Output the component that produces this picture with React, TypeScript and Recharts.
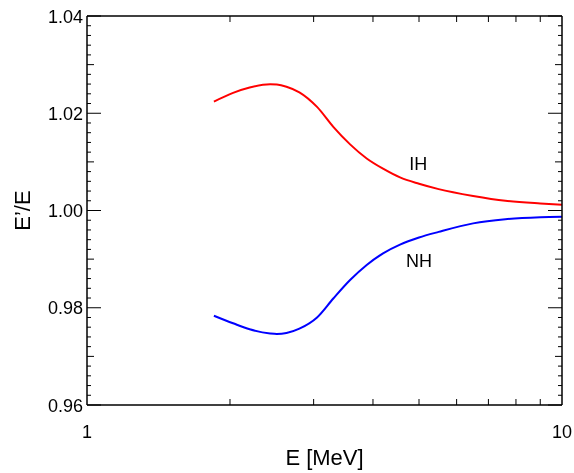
import { Label, Line, LineChart, ReferenceDot, XAxis, YAxis } from 'recharts';

const FONT = '"Liberation Sans", Arial, Helvetica, sans-serif';

// E [MeV] sample points and E'/E for both hierarchies
const energies = [1.85, 2.03, 2.2, 2.43, 2.51, 2.63, 2.8, 3.05, 3.3, 3.58, 3.88, 4.2, 4.56, 5.0, 5.5, 6.5, 7.6, 9.0, 10];
const ihValues = [1.0224, 1.0242, 1.0253, 1.02595, 1.0259, 1.02546, 1.0243, 1.0213, 1.0172, 1.0136, 1.0107, 1.0086, 1.0068, 1.0055, 1.0044, 1.003, 1.002, 1.00145, 1.0012];
const nhValues = [0.97836, 0.9768, 0.97557, 0.9747, 0.9746, 0.9748, 0.9757, 0.978, 0.9819, 0.9857, 0.9888, 0.9912, 0.993, 0.99445, 0.9956, 0.99735, 0.9982, 0.9986, 0.9987];

const xTicks = [1, 2, 3, 4, 5, 6, 7, 8, 9, 10];
const xLabels: Record<number, string> = { 1: '1', 10: '10' };
const yMajor = [0.96, 0.98, 1.0, 1.02, 1.04];
const yLabels = ['0.96', '0.98', '1.00', '1.02', '1.04'];

const yTicks: number[] = [];
for (let i = 0; i <= 40; i++) yTicks.push(Math.round((0.96 + i * 0.002) * 1000) / 1000);

const data = energies.map((e, i) => ({ e, ih: ihValues[i], nh: nhValues[i] }));

function yTickLen(v: number) {
  const k = Math.round(v * 1000);
  if (k % 20 === 0) return 14;
  if (k % 10 === 0) return 7;
  return 4;
}

function yLabel(v: number) {
  const idx = yMajor.findIndex((m) => Math.abs(m - v) < 1e-6);
  return idx >= 0 ? yLabels[idx] : null;
}

const BottomTick = ({ x, y, payload }: any) => {
  const v = payload.value;
  const isEnd = v === 1 || v === 10;
  return (
    <g>
      {!isEnd && <line x1={x} x2={x} y1={y} y2={y - 6} stroke="#000" strokeWidth={1} />}
      {xLabels[v] && (
        <text x={x} y={y + 33} textAnchor="middle" fontSize={18} fontFamily={FONT} fill="#000">
          {xLabels[v]}
        </text>
      )}
    </g>
  );
};

const TopTick = ({ x, y, payload }: any) => {
  const v = payload.value;
  if (v === 1 || v === 10) return <g />;
  return <line x1={x} x2={x} y1={y} y2={y + 6} stroke="#000" strokeWidth={1} />;
};

const LeftTick = ({ x, y, payload }: any) => {
  const v = payload.value;
  const lab = yLabel(v);
  const len = yTickLen(v);
  return (
    <g>
      <line x1={x} x2={x + len} y1={y} y2={y} stroke="#000" strokeWidth={1} />
      {lab && (
        <text x={x - 4} y={y + 6.5} textAnchor="end" fontSize={18} fontFamily={FONT} fill="#000">
          {lab}
        </text>
      )}
    </g>
  );
};

const RightTick = ({ x, y, payload }: any) => {
  const len = yTickLen(payload.value);
  return <line x1={x} x2={x - len} y1={y} y2={y} stroke="#000" strokeWidth={1} />;
};

export default function App() {
  return (
    <div style={{ position: 'fixed', left: 0, top: 0 }}>
      <LineChart width={574} height={473} data={data} margin={{ top: 15, right: 11, left: 0, bottom: 0 }}>
        <XAxis
          xAxisId="b"
          dataKey="e"
          type="number"
          scale="log"
          domain={[1, 10]}
          allowDataOverflow
          ticks={xTicks}
          interval={0}
          tickSize={0}
          tickMargin={0}
          tickLine={false}
          tick={<BottomTick />}
          height={68}
          axisLine={{ stroke: '#000', strokeWidth: 1.5 }}
        >
          <Label
            content={({ viewBox }: any) => (
              <text
                x={viewBox.x + viewBox.width / 2}
                y={viewBox.y + 60}
                textAnchor="middle"
                fontSize={22}
                fontFamily={FONT}
                fill="#000"
              >
                E [MeV]
              </text>
            )}
          />
        </XAxis>
        <XAxis
          xAxisId="t"
          orientation="top"
          dataKey="e"
          type="number"
          scale="log"
          domain={[1, 10]}
          allowDataOverflow
          ticks={xTicks}
          interval={0}
          tickSize={0}
          tickMargin={0}
          tickLine={false}
          tick={<TopTick />}
          height={1}
          axisLine={{ stroke: '#000', strokeWidth: 1.5 }}
        />
        <YAxis
          yAxisId="l"
          type="number"
          domain={[0.96, 1.04]}
          allowDataOverflow
          ticks={yTicks}
          interval={0}
          tickSize={0}
          tickMargin={0}
          tickLine={false}
          tick={<LeftTick />}
          width={87}
          axisLine={{ stroke: '#000', strokeWidth: 1.5 }}
        >
          <Label
            content={({ viewBox }: any) => {
              const cx = viewBox.x + 30;
              const cy = viewBox.y + viewBox.height / 2;
              return (
                <text
                  x={cx}
                  y={cy}
                  transform={`rotate(-90, ${cx}, ${cy})`}
                  textAnchor="middle"
                  fontSize={22}
                  fontFamily={FONT}
                  fill="#000"
                >
                  E’/E
                </text>
              );
            }}
          />
        </YAxis>
        <YAxis
          yAxisId="r"
          orientation="right"
          type="number"
          domain={[0.96, 1.04]}
          allowDataOverflow
          ticks={yTicks}
          interval={0}
          tickSize={0}
          tickMargin={0}
          tickLine={false}
          tick={<RightTick />}
          width={1}
          axisLine={{ stroke: '#000', strokeWidth: 1.5 }}
        />
        <Line
          xAxisId="b"
          yAxisId="l"
          type="monotone"
          dataKey="ih"
          stroke="#ff0000"
          strokeWidth={2}
          dot={false}
          isAnimationActive={false}
        />
        <Line
          xAxisId="b"
          yAxisId="l"
          type="monotone"
          dataKey="nh"
          stroke="#0000ff"
          strokeWidth={2}
          dot={false}
          isAnimationActive={false}
        />
        <ReferenceDot xAxisId="b" yAxisId="l" x={4.98} y={1.0097} r={0} stroke="none" fill="none">
          <Label value="IH" position="center" fontSize={18} fontFamily={FONT} fill="#000" />
        </ReferenceDot>
        <ReferenceDot xAxisId="b" yAxisId="l" x={5.0} y={0.9897} r={0} stroke="none" fill="none">
          <Label value="NH" position="center" fontSize={18} fontFamily={FONT} fill="#000" />
        </ReferenceDot>
      </LineChart>
    </div>
  );
}
